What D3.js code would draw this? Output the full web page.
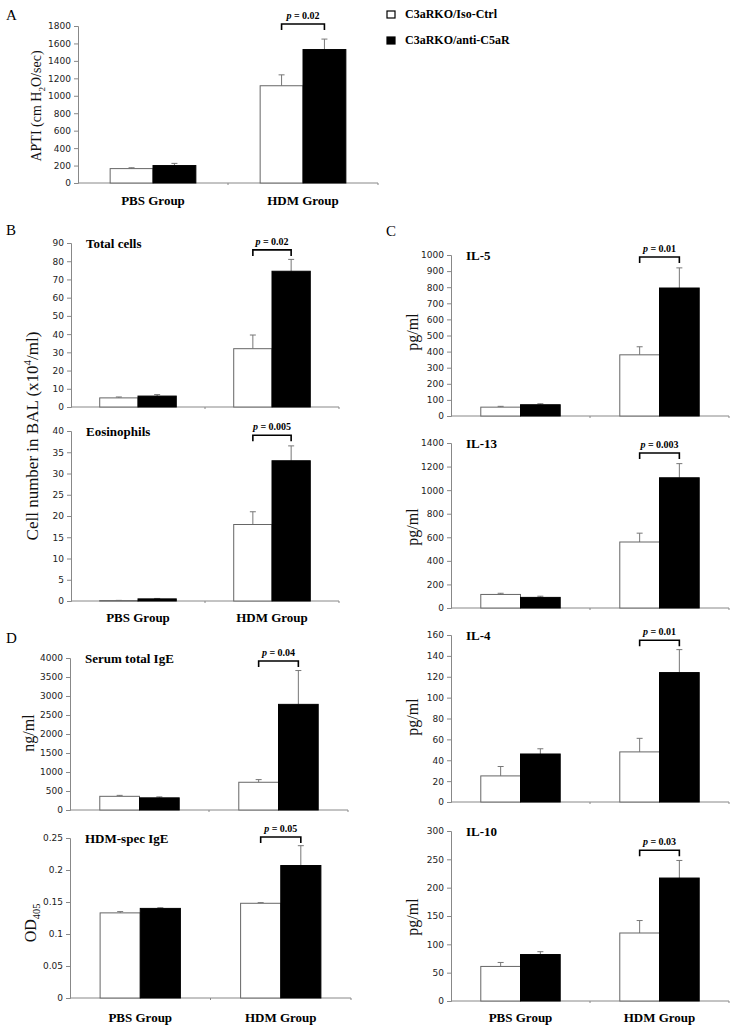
<!DOCTYPE html>
<html>
<head>
<meta charset="utf-8">
<script src="https://cdn.jsdelivr.net/npm/d3@7/dist/d3.min.js"></script>
<style>
  html, body { margin: 0; padding: 0; background: #fff; }
  svg { display: block; }
  .tick text { font-family: "DejaVu Sans", sans-serif; font-size: 9px; fill: #222; }
  .serif { font-family: "Liberation Serif", "Times New Roman", serif; }
</style>
</head>
<body>
<svg id="chart" width="738" height="1031"></svg>
<script>
// ---------- DATA ----------
const groups = ["PBS Group", "HDM Group"];
const seriesNames = ["C3aRKO/Iso-Ctrl", "C3aRKO/anti-C5aR"];

// A: APTI
const aptiIso = [165, 1115];
const aptiIsoSem = [10, 125];
const aptiAnti = [200, 1530];
const aptiAntiSem = [25, 120];
const aptiTicks = [0, 200, 400, 600, 800, 1000, 1200, 1400, 1600, 1800];
const aptiP = "0.02";

// B: BAL cells
const totalIso = [5, 32];
const totalIsoSem = [0.5, 7.5];
const totalAnti = [6, 74.5];
const totalAntiSem = [0.8, 6.5];
const totalTicks = [0, 10, 20, 30, 40, 50, 60, 70, 80, 90];
const totalP = "0.02";

const eosIso = [0.1, 18];
const eosIsoSem = [0.05, 3];
const eosAnti = [0.5, 33];
const eosAntiSem = [0.1, 3.5];
const eosTicks = [0, 5, 10, 15, 20, 25, 30, 35, 40];
const eosP = "0.005";

// C: cytokines
const il5Iso = [55, 380];
const il5IsoSem = [5, 50];
const il5Anti = [70, 795];
const il5AntiSem = [6, 125];
const il5Ticks = [0, 100, 200, 300, 400, 500, 600, 700, 800, 900, 1000];
const il5P = "0.01";

const il13Iso = [115, 560];
const il13IsoSem = [10, 75];
const il13Anti = [90, 1105];
const il13AntiSem = [10, 120];
const il13Ticks = [0, 200, 400, 600, 800, 1000, 1200, 1400];
const il13P = "0.003";

const il4Iso = [25, 48];
const il4IsoSem = [9, 13];
const il4Anti = [46, 124];
const il4AntiSem = [5, 22];
const il4Ticks = [0, 20, 40, 60, 80, 100, 120, 140, 160];
const il4P = "0.01";

const il10Iso = [61, 120];
const il10IsoSem = [7, 22];
const il10Anti = [82, 217];
const il10AntiSem = [5, 31];
const il10Ticks = [0, 50, 100, 150, 200, 250, 300];
const il10P = "0.03";

// D: IgE
const igeIso = [360, 730];
const igeIsoSem = [25, 70];
const igeAnti = [320, 2780];
const igeAntiSem = [25, 890];
const igeTicks = [0, 500, 1000, 1500, 2000, 2500, 3000, 3500, 4000];
const igeP = "0.04";

const hdmIso = [0.133, 0.148];
const hdmIsoSem = [0.002, 0.001];
const hdmAnti = [0.140, 0.207];
const hdmAntiSem = [0.001, 0.031];
const hdmTicks = [0, 0.05, 0.1, 0.15, 0.2, 0.25];
const hdmP = "0.05";

// ---------- LAYOUT ----------
const svg = d3.select("#chart");
const AXIS = "#888";
const ERR = "#777";

function panel(cfg) {
  const g = svg.append("g");
  const x = d3.scaleBand().domain(groups).range([cfg.left, cfg.right]);
  const xs = d3.scaleBand().domain(seriesNames).range([0, x.bandwidth()])
    .paddingInner(0).paddingOuter(0.75);
  const y = d3.scaleLinear().domain([0, d3.max(cfg.ticks)]).range([cfg.zero, cfg.top]);

  // y axis
  const ya = d3.axisLeft(y).tickValues(cfg.ticks).tickSize(4).tickPadding(3)
    .tickFormat(d => String(d));
  const yg = g.append("g").attr("transform", `translate(${cfg.left},0)`).call(ya);
  yg.select(".domain").attr("stroke", AXIS);
  yg.selectAll(".tick line").attr("stroke", AXIS);

  // x axis line with small ticks
  g.append("line").attr("x1", cfg.left).attr("x2", cfg.right)
    .attr("y1", cfg.zero).attr("y2", cfg.zero).attr("stroke", AXIS);
  [groups[1], null].forEach(k => {
    const xx = k ? x(k) : cfg.right;
    g.append("line").attr("x1", xx).attr("x2", xx)
      .attr("y1", cfg.zero).attr("y2", cfg.zero + 2).attr("stroke", AXIS);
  });

  const rows = [];
  groups.forEach((grp, i) => {
    rows.push({grp, s: seriesNames[0], v: cfg.iso[i], e: cfg.isoSem[i]});
    rows.push({grp, s: seriesNames[1], v: cfg.anti[i], e: cfg.antiSem[i]});
  });

  // error bars (behind bars)
  const eg = g.append("g");
  rows.forEach(r => {
    const cx = x(r.grp) + xs(r.s) + xs.bandwidth() / 2;
    eg.append("line").attr("x1", cx).attr("x2", cx)
      .attr("y1", y(r.v)).attr("y2", y(r.v + r.e)).attr("stroke", ERR).attr("stroke-width", 1);
    eg.append("line").attr("x1", cx - 3).attr("x2", cx + 3)
      .attr("y1", y(r.v + r.e)).attr("y2", y(r.v + r.e)).attr("stroke", ERR).attr("stroke-width", 1);
  });

  // bars
  g.append("g").selectAll("rect").data(rows).join("rect")
    .attr("x", r => x(r.grp) + xs(r.s))
    .attr("width", xs.bandwidth())
    .attr("y", r => y(r.v))
    .attr("height", r => Math.max(0.5, cfg.zero - y(r.v)))
    .attr("fill", r => r.s === seriesNames[0] ? "#fff" : "#000")
    .attr("stroke", r => r.s === seriesNames[0] ? "#666" : "#000")
    .attr("stroke-width", 1);

  // significance bracket over HDM group
  const bx1 = x(groups[1]) + xs(seriesNames[0]) + xs.bandwidth() / 2;
  const bx2 = x(groups[1]) + xs(seriesNames[1]) + xs.bandwidth() / 2;
  const by = y(cfg.bracketVal);
  g.append("path")
    .attr("d", `M${bx1},${by + 6}V${by}H${bx2}V${by + 6}`)
    .attr("fill", "none").attr("stroke", "#000").attr("stroke-width", 1.6);
  const pt = g.append("text").attr("class", "serif")
    .attr("x", (bx1 + bx2) / 2).attr("y", by - 5)
    .attr("text-anchor", "middle").attr("font-size", 10).attr("font-weight", "bold");
  pt.append("tspan").attr("font-style", "italic").text("p");
  pt.append("tspan").text(" = " + cfg.p);

  // panel title
  if (cfg.label) {
    g.append("text").attr("class", "serif").attr("x", cfg.left + 15).attr("y", cfg.top + 5)
      .attr("font-size", 13).attr("font-weight", "bold").text(cfg.label);
  }

  // category labels
  if (cfg.catY) {
    groups.forEach(grp => {
      g.append("text").attr("class", "serif").attr("x", x(grp) + x.bandwidth() / 2)
        .attr("y", cfg.catY).attr("text-anchor", "middle")
        .attr("font-size", 13).attr("font-weight", "bold").text(grp);
    });
  }
  return {x, y};
}

panel({left: 78, right: 378, top: 26, zero: 183, ticks: aptiTicks,
  iso: aptiIso, isoSem: aptiIsoSem, anti: aptiAnti, antiSem: aptiAntiSem,
  p: aptiP, bracketVal: 1823, catY: 205});

panel({left: 71, right: 339, top: 243, zero: 407, ticks: totalTicks,
  iso: totalIso, isoSem: totalIsoSem, anti: totalAnti, antiSem: totalAntiSem,
  p: totalP, bracketVal: 86.2, label: "Total cells"});
panel({left: 71, right: 339, top: 431, zero: 601, ticks: eosTicks,
  iso: eosIso, isoSem: eosIsoSem, anti: eosAnti, antiSem: eosAntiSem,
  p: eosP, bracketVal: 39, label: "Eosinophils", catY: 622});

panel({left: 451, right: 729, top: 255, zero: 416, ticks: il5Ticks,
  iso: il5Iso, isoSem: il5IsoSem, anti: il5Anti, antiSem: il5AntiSem,
  p: il5P, bracketVal: 988, label: "IL-5"});
panel({left: 451, right: 729, top: 443, zero: 608, ticks: il13Ticks,
  iso: il13Iso, isoSem: il13IsoSem, anti: il13Anti, antiSem: il13AntiSem,
  p: il13P, bracketVal: 1315, label: "IL-13"});
panel({left: 451, right: 729, top: 635, zero: 802, ticks: il4Ticks,
  iso: il4Iso, isoSem: il4IsoSem, anti: il4Anti, antiSem: il4AntiSem,
  p: il4P, bracketVal: 155, label: "IL-4"});
panel({left: 451, right: 729, top: 831, zero: 1001, ticks: il10Ticks,
  iso: il10Iso, isoSem: il10IsoSem, anti: il10Anti, antiSem: il10AntiSem,
  p: il10P, bracketVal: 266, label: "IL-10", catY: 1022});

panel({left: 70, right: 348, top: 658, zero: 810, ticks: igeTicks,
  iso: igeIso, isoSem: igeIsoSem, anti: igeAnti, antiSem: igeAntiSem,
  p: igeP, bracketVal: 3921, label: "Serum total IgE"});
panel({left: 70, right: 351, top: 838, zero: 998, ticks: hdmTicks,
  iso: hdmIso, isoSem: hdmIsoSem, anti: hdmAnti, antiSem: hdmAntiSem,
  p: hdmP, bracketVal: 0.2516, label: "HDM-spec IgE", catY: 1022});

// ---------- Y TITLES ----------
function ytitle(xb, yc, size, parts) {
  const t = svg.append("text").attr("class", "serif")
    .attr("transform", `translate(${xb},${yc}) rotate(-90)`)
    .attr("text-anchor", "middle").attr("font-size", size).attr("fill", "#111");
  parts.forEach(p => {
    const s = t.append("tspan").text(p.t);
    if (p.sub) s.attr("font-size", size * 0.65).attr("dy", size * 0.25);
    if (p.sup) s.attr("font-size", size * 0.65).attr("dy", -size * 0.4);
    if (p.back) s.attr("dy", p.back);
  });
}
ytitle(41, 106, 14, [{t: "APTI (cm H"}, {t: "2", sub: true}, {t: "O/sec)", back: -14 * 0.25}]);
ytitle(38, 436, 17, [{t: "Cell number in BAL (x10"}, {t: "4", sup: true}, {t: "/ml)", back: 17 * 0.4}]);
ytitle(418, 332, 16, [{t: "pg/ml"}]);
ytitle(418, 527, 16, [{t: "pg/ml"}]);
ytitle(418, 717, 16, [{t: "pg/ml"}]);
ytitle(418, 917, 16, [{t: "pg/ml"}]);
ytitle(34, 733, 16, [{t: "ng/ml"}]);
ytitle(36, 923, 16, [{t: "OD"}, {t: "405", sub: true}]);

// ---------- PANEL LETTERS ----------
[["A", 6, 20], ["B", 6, 235], ["C", 386, 236], ["D", 6, 643]].forEach(([l, xx, yy]) => {
  svg.append("text").attr("class", "serif").attr("x", xx).attr("y", yy)
    .attr("font-size", 15).text(l);
});

// ---------- LEGEND ----------
seriesNames.forEach((s, i) => {
  const yy = 11 + i * 26;
  svg.append("rect").attr("x", 387).attr("y", yy).attr("width", 8).attr("height", 7)
    .attr("fill", i === 0 ? "#fff" : "#000").attr("stroke", "#000").attr("stroke-width", 1.2);
  svg.append("text").attr("class", "serif").attr("x", 405).attr("y", yy + 7)
    .attr("font-size", 12).attr("font-weight", "bold").text(s);
});
</script>
</body>
</html>
